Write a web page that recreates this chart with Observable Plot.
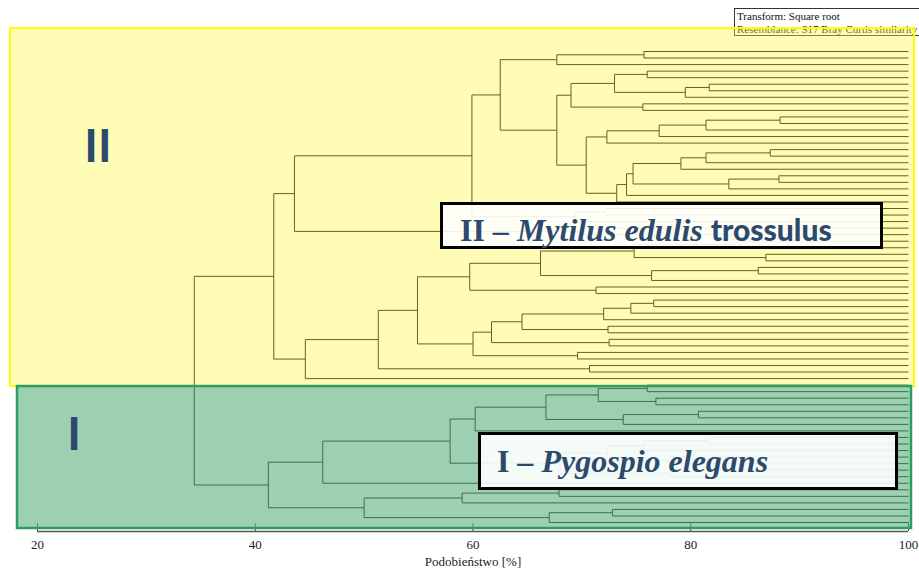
<!DOCTYPE html>
<html><head><meta charset="utf-8">
<script src="https://cdn.jsdelivr.net/npm/d3@7"></script>
<script src="https://cdn.jsdelivr.net/npm/@observablehq/plot@0.6"></script>
<style>
html,body{margin:0;padding:0;background:#fff;overflow:hidden;}
#wrap{position:relative;width:919px;height:573px;}
#legend{position:absolute;left:734px;top:8px;width:220px;height:28px;border:1px solid #333;box-sizing:border-box;
  font:11px "Liberation Serif",serif;line-height:13px;padding:1px 0 0 2px;white-space:nowrap;color:#111;z-index:0;}
#chart{position:absolute;left:0;top:0;z-index:1;}
.lab{position:absolute;box-sizing:border-box;border:3px solid #000;background:rgba(255,255,255,0.9);z-index:2;
  color:#2c4a6e;white-space:nowrap;font-family:"Liberation Serif",serif;font-size:32px;line-height:32px;}
.lab .t{position:absolute;}
.lab b{font-weight:bold;}
.lab i{font-style:italic;font-weight:bold;}
.lab .s{font-family:Lato,sans-serif;font-weight:900;font-style:normal;font-size:30px;}
</style></head>
<body>
<div id="wrap">
  <div id="legend"></div>
  <div id="chart"></div>
  <div class="lab" id="labII" style="left:440px;top:202px;width:443px;height:47px;"><span class="t" style="left:17px;top:8px;"></span></div>
  <div class="lab" id="labI" style="left:478px;top:432px;width:420px;height:58px;"><span class="t" style="left:16px;top:10px;"></span></div>
</div>
<script>
// ---- data ----
const leafCount = 73; // samples, ordered top to bottom
// merge table: node id, its two children (leaf index or node id), similarity [%]
const nodeId = ["a1","a2","b1","b2","b3","b4","b5","b6","c1","c2","c3","c4","d1","d2","d3","d4","d5","d6","d7","d8","c5","b7","a3","e1","e2","a4","e3","a5",
  "f1","f2","f3","f4","f5","f6","f7","f8","g1","g2","g3","g4","g5","g6","g7","g8","g9","h1","h2","h3","h4","h5",
  "i1","i2","i3","i4","i5","i6","i7","j1","j2","j3","j4","j5","j6","i8","i9","k1","k2","k3","k4","k5","m1","root"];
const childA = [0,"a1",3,5,"b2","b1",8,"b4",10,"c1","c2","c3",15,"d1","d2",19,"d4","d3","d6","d7","c4","b6","a2",24,"e1","a3",27,"a4",
  29,31,"f1",33,"f4","f3",36,"f6",38,"g1","g2",42,"g3",44,"g5",46,"g7","f8",48,"h1","h3","a5",
  51,53,"i1",55,"i4","i3","i6",59,"j1",62,"j2",64,"j4","i7","i8",67,"k1",70,"k3","k2","i9","h5"];
const childB = [1,2,4,6,7,"b3",9,"b5",11,12,13,14,16,17,18,20,21,"d5",22,23,"d8","c5","b7",25,26,"e2",28,"e3",
  30,32,"f2",34,35,"f5",37,"f7",39,40,41,43,"g4",45,"g6",47,"g8","g9",49,"h2",50,"h4",
  52,54,"i2",56,57,"i5",58,60,61,63,"j3",65,"j5","j6",66,68,69,71,72,"k4","k5","m1"];
const similarity = [75.7,67.7,76.0,81.7,79.5,73.0,75.6,69.0,88.2,81.4,77.1,72.3,87.3,81.4,79.1,88.1,83.5,74.7,74.1,73.2,70.4,67.7,62.5,72.2,69.4,59.9,70.0,43.6,
  84.7,86.9,74.8,86.2,76.4,66.2,71.3,59.7,76.6,74.5,72.0,72.4,64.5,72.5,61.7,69.6,60.0,54.9,70.7,51.3,44.6,41.7,
  76.0,76.8,71.5,80.7,73.8,66.7,60.2,81.5,75.7,78.0,72.3,78.0,68.0,57.9,46.2,67.9,59.0,72.8,67.0,50.0,41.2,34.4];
const groupLabel = ["II", "I"];
const groupFirstLeaf = [0, 51];
const groupLastLeaf = [50, 72];
const xDomain = [20, 100];
const xTicks = [20, 40, 60, 80, 100];
const xLabel = "Podobieństwo [%]";
const legendLines = ["Transform: Square root", "Resemblance: S17 Bray Curtis similarity"];

// ---- tree geometry (similarity x leaf order) ----
const segs = [];
const pos = new Map();
for (let i = 0; i < leafCount; i++) pos.set(i, {x: xDomain[1], y: i});
nodeId.forEach((id, k) => {
  const s = similarity[k], a = pos.get(childA[k]), b = pos.get(childB[k]);
  segs.push({x1: s, y1: a.y, x2: s, y2: b.y});
  segs.push({x1: s, y1: a.y, x2: a.x, y2: a.y});
  segs.push({x1: s, y1: b.y, x2: b.x, y2: b.y});
  pos.set(id, {x: s, y: (a.y + b.y) / 2});
});
const groups = groupLabel.map((g, i) => ({g, first: groupFirstLeaf[i], last: groupLastLeaf[i]}));

const chart = Plot.plot({
  width: 919, height: 573,
  marginLeft: 37, marginRight: 11, marginTop: 51, marginBottom: 42,
  style: {background: "transparent", fontFamily: "Liberation Serif", fontSize: "13px", color: "#222", overflow: "visible"},
  x: {domain: xDomain, ticks: xTicks, tickSize: 0, tickPadding: 8, label: null},
  y: {domain: [0, leafCount - 1], range: [51, 522], axis: null},
  marks: [
    Plot.link(segs, {x1: "x1", y1: "y1", x2: "x2", y2: "y2", stroke: "#000", strokeWidth: 1}),
    Plot.ruleX(xTicks, {x: d => d, insetTop: 472, stroke: "#444", strokeWidth: 1}),
    Plot.ruleY([leafCount - 1], {y: d => d, x1: xDomain[0], x2: xDomain[1], dy: 9, stroke: "#555", strokeWidth: 1.5}),
    Plot.rect([groups[0]], {x1: () => xDomain[0], x2: () => xDomain[1], y1: "first", y2: "last",
      insetLeft: -27, insetRight: -6, insetTop: -23, insetBottom: -8,
      fill: "rgb(255,250,70)", fillOpacity: 0.4, stroke: "#ffff00", strokeWidth: 2}),
    Plot.rect([groups[1]], {x1: () => xDomain[0], x2: () => xDomain[1], y1: "first", y2: "last",
      insetLeft: -20, insetRight: -3, insetTop: 1.4, insetBottom: -6,
      fill: "rgb(97,177,129)", fillOpacity: 0.62, stroke: "#2e9e5e", strokeWidth: 2.5}),
    Plot.text([groupLabel[0]], {text: d => d, frameAnchor: "top-left", dx: 60.5, dy: 96, fontSize: 46, fontWeight: "bold",
      fontFamily: "Lato", fill: "#2c4a6e", textAnchor: "middle", lineAnchor: "middle"}),
    Plot.text([groupLabel[1]], {text: d => d, frameAnchor: "top-left", dx: 36.5, dy: 383.5, fontSize: 46, fontWeight: "bold",
      fontFamily: "Lato", fill: "#2c4a6e", textAnchor: "middle", lineAnchor: "middle"}),
    Plot.text([xLabel], {text: d => d, frameAnchor: "bottom", dy: 34, fontSize: 13, fill: "#222"})
  ]
});
document.getElementById("chart").appendChild(chart);
document.getElementById("legend").innerHTML = legendLines.join("<br>");
document.querySelector("#labII .t").innerHTML = "<b>II</b> <i>– Mytilus edulis</i> <span class='s'>trossulus</span>";
document.querySelector("#labI .t").innerHTML = "<b>I</b> <i>– Pygospio elegans</i>";
</script>
</body></html>
